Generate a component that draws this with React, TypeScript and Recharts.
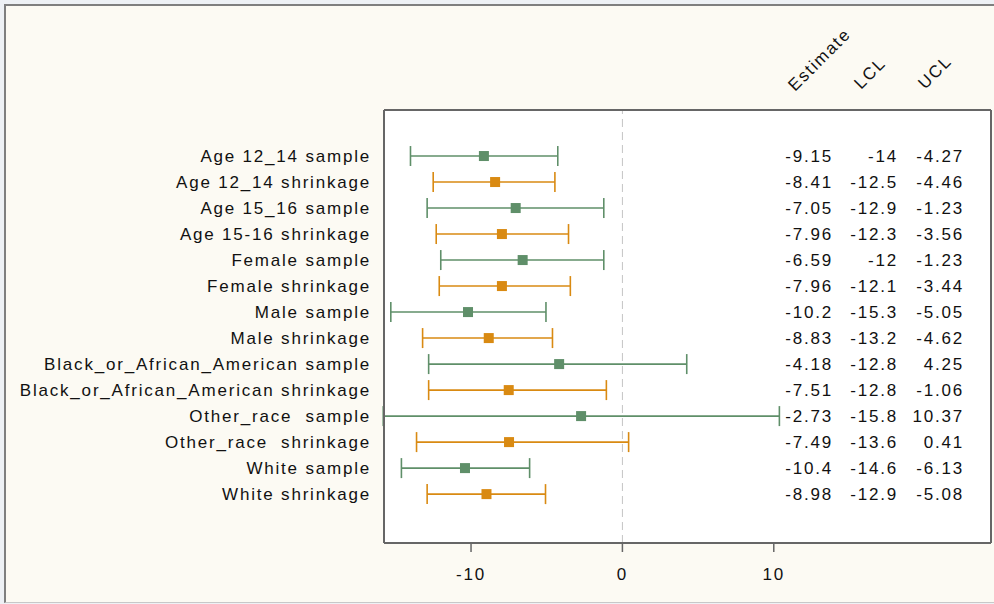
import React from "react";
import {
  ComposedChart,
  Scatter,
  ErrorBar,
  XAxis,
  YAxis,
  CartesianGrid,
  ReferenceLine,
} from "recharts";

const LABELS = [
  "Age 12_14 sample",
  "Age 12_14 shrinkage",
  "Age 15_16 sample",
  "Age 15-16 shrinkage",
  "Female sample",
  "Female shrinkage",
  "Male sample",
  "Male shrinkage",
  "Black_or_African_American sample",
  "Black_or_African_American shrinkage",
  "Other_race  sample",
  "Other_race  shrinkage",
  "White sample",
  "White shrinkage",
];
const ESTIMATE = [-9.15, -8.41, -7.05, -7.96, -6.59, -7.96, -10.2, -8.83, -4.18, -7.51, -2.73, -7.49, -10.4, -8.98];
const LCL = [-14, -12.5, -12.9, -12.3, -12, -12.1, -15.3, -13.2, -12.8, -12.8, -15.8, -13.6, -14.6, -12.9];
const UCL = [-4.27, -4.46, -1.23, -3.56, -1.23, -3.44, -5.05, -4.62, 4.25, -1.06, 10.37, 0.41, -6.13, -5.08];
const X_TICKS = [-10, 0, 10];
const HEADERS = ["Estimate", "LCL", "UCL"];

const GREEN = "#5f8f69";
const ORANGE = "#d98a12";
const AXIS = "#666";
const TEXT = "#111";
const X_DOMAIN = [-15.75, 24.35];
const Y_DOMAIN = [-0.77, 15.88];

const rows = LABELS.map((label, i) => ({
  row: i + 1,
  est: ESTIMATE[i],
  err: [ESTIMATE[i] - LCL[i], UCL[i] - ESTIMATE[i]],
}));
const sampleRows = rows.filter((_, i) => i % 2 === 0);
const shrinkRows = rows.filter((_, i) => i % 2 === 1);
const yTicks = rows.map((r) => r.row);

// right-hand table: columns are right aligned, offsets from the right border
const COL_END = [-158, -93, -27];
const HEAD_POS = [
  [-196, -64],
  [-130, -66],
  [-66, -66],
];

function TableTick(props: any) {
  const { x, y, payload, index } = props;
  const i = payload.value - 1;
  const cells = [ESTIMATE[i], LCL[i], UCL[i]];
  return (
    <g>
      {cells.map((v, c) => (
        <text key={c} x={x + COL_END[c]} y={y} dy="0.355em" textAnchor="end" fill={TEXT} fontSize={17}>
          {String(v)}
        </text>
      ))}
      {index === 0 &&
        HEADERS.map((h, c) => {
          const hx = x + HEAD_POS[c][0];
          const hy = y + HEAD_POS[c][1];
          return (
            <text key={h} x={hx} y={hy} transform={`rotate(-45 ${hx} ${hy})`} fill={TEXT} fontSize={17}>
              {h}
            </text>
          );
        })}
    </g>
  );
}

const Square = (color: string) => (props: any) => (
  <rect x={props.cx - 5} y={props.cy - 5} width={10} height={10} fill={color} />
);

export default function App() {
  return (
    <div style={{ position: "absolute", left: 0, top: 0, width: 994, height: 604, background: "#eef1f5", overflow: "hidden" }}>
      <div
        style={{
          position: "absolute",
          left: 4,
          top: 4,
          width: 1000,
          height: 596,
          background: "#fcfaf3",
          borderLeft: "2px solid #7f7f7f",
          borderTop: "2px solid #7f7f7f",
          borderBottom: "1px solid #c8c8c8",
        }}
      />
      <div
        style={{
          position: "absolute",
          left: 0,
          top: 0,
          fontFamily: "'Liberation Sans', Arial, sans-serif",
          letterSpacing: "1.8px",
        }}
      >
        <ComposedChart width={994} height={604} margin={{ top: 109, right: 3, bottom: 0, left: 0 }}>
          <CartesianGrid xAxisId="x" yAxisId="left" horizontal={false} vertical={false} fill="#ffffff" />
          <XAxis
            xAxisId="x"
            type="number"
            dataKey="est"
            domain={X_DOMAIN}
            ticks={X_TICKS}
            allowDataOverflow
            height={61}
            tickSize={9}
            tickMargin={16}
            stroke={AXIS}
            axisLine={{ stroke: AXIS, strokeWidth: 2 }}
            tickLine={{ stroke: AXIS, strokeWidth: 1.5 }}
            tick={{ fill: TEXT, fontSize: 17 }}
          />
          <XAxis
            xAxisId="top"
            orientation="top"
            type="number"
            dataKey="est"
            domain={X_DOMAIN}
            allowDataOverflow
            height={1}
            tick={false}
            tickLine={false}
            stroke={AXIS}
            axisLine={{ stroke: AXIS, strokeWidth: 2 }}
          />
          <YAxis
            yAxisId="left"
            type="number"
            dataKey="row"
            domain={Y_DOMAIN}
            reversed
            ticks={yTicks}
            interval={0}
            width={384}
            tickSize={0}
            tickMargin={13}
            tickLine={false}
            axisLine={{ stroke: AXIS, strokeWidth: 2 }}
            tickFormatter={(v: number) => LABELS[v - 1].replace(/ {2}/g, "\u00a0 ")}
            tick={{ fill: TEXT, fontSize: 17 }}
          />
          <YAxis
            yAxisId="right"
            orientation="right"
            mirror
            type="number"
            dataKey="row"
            domain={Y_DOMAIN}
            reversed
            ticks={yTicks}
            interval={0}
            width={3}
            tickSize={0}
            tickMargin={0}
            tickLine={false}
            stroke={AXIS}
            axisLine={{ stroke: AXIS, strokeWidth: 2 }}
            tick={<TableTick />}
          />
          <ReferenceLine xAxisId="x" yAxisId="left" x={0} stroke="#c4c4c4" strokeDasharray="8 5" />
          {/* invisible series so the frame axes (top / right) get drawn */}
          <Scatter
            xAxisId="top"
            yAxisId="right"
            data={rows}
            shape={() => <g />}
            isAnimationActive={false}
          />
          <Scatter
            xAxisId="x"
            yAxisId="left"
            data={sampleRows}
            fill={GREEN}
            shape={Square(GREEN)}
            isAnimationActive={false}
          >
            <ErrorBar dataKey="err" direction="x" width={10} stroke={GREEN} strokeWidth={1.6} isAnimationActive={false} />
          </Scatter>
          <Scatter
            xAxisId="x"
            yAxisId="left"
            data={shrinkRows}
            fill={ORANGE}
            shape={Square(ORANGE)}
            isAnimationActive={false}
          >
            <ErrorBar dataKey="err" direction="x" width={10} stroke={ORANGE} strokeWidth={1.6} isAnimationActive={false} />
          </Scatter>
        </ComposedChart>
      </div>
    </div>
  );
}
